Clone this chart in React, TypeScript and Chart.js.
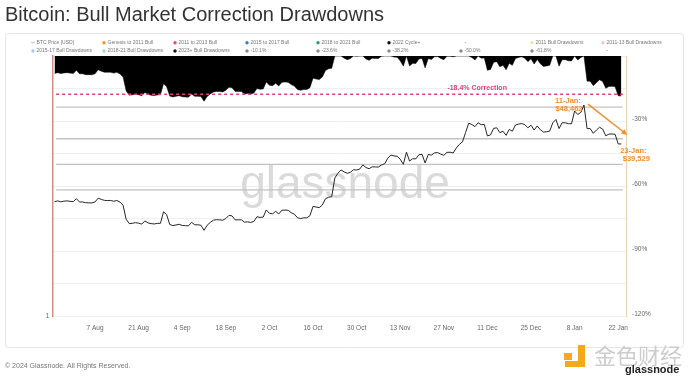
import React, { useEffect, useRef } from 'react';
import { Chart, registerables } from 'chart.js';

Chart.register(...registerables);

const FONT = '"Liberation Sans", Arial, sans-serif';

// ---------------- DATA ----------------
const chartTitle = 'Bitcoin: Bull Market Correction Drawdowns';
const footerText = '\u00A9 2024 Glassnode. All Rights Reserved.';

// day index 0 = 25 Jul 2023, daily values to 23 Jan 2024
const btcPrice = [
  // Jul 25-31
  29230, 29350, 29210, 29310, 29350, 29280, 29230,
  // Aug
  29700, 29180, 29180, 29070, 29050, 29040, 29180, 29770, 29580, 29430,
  29400, 29420, 29290, 29410, 29170, 28700, 26660, 26050, 26100, 26190,
  26120, 25990, 26430, 26160, 26060, 26010, 26090, 26100, 27720, 27300, 25930,
  // Sep
  25800, 25870, 25970, 25810, 25780, 25750, 26240, 25900, 25900, 25840,
  25160, 25840, 26220, 26530, 26600, 26570, 26530, 26760, 27210, 27130,
  26570, 26580, 26580, 26250, 26300, 26220, 26360, 27020, 26910, 26970,
  // Oct
  27990, 27500, 27430, 27790, 27410, 27950, 27970, 27940, 27590, 27390,
  26870, 26760, 26860, 26860, 27160, 28520, 28420, 28330, 28720, 29680,
  29920, 30000, 33090, 33920, 34500, 34160, 33910, 34090, 34540, 34500, 34670,
  // Nov
  35440, 34940, 34730, 35080, 35050, 35040, 35420, 35630, 36700, 37310,
  37130, 37070, 36500, 35540, 37880, 36150, 36600, 36570, 37360, 37450,
  35790, 37420, 37290, 37720, 37800, 37480, 37250, 37830, 37860, 37710,
  // Dec
  38690, 39460, 39980, 41980, 44080, 43770, 43290, 44170, 43720, 43790,
  41240, 41450, 42890, 43020, 41940, 42260, 41360, 42660, 42260, 43650,
  43870, 43990, 43740, 43020, 43610, 42520, 43440, 42580, 42070, 42140, 42280,
  // Jan
  44180, 44940, 42850, 44180, 44160, 43970, 43930, 46970, 46120, 46630,
  48462, 42850, 42840, 41800, 42510, 43150, 42740, 41260, 41620, 41660,
  41580, 39540, 39529,
];

// 2023+ Bull Drawdowns (%)
const bullDrawdowns2023 = [
  -8.1, -7.7, -8.1, -7.8, -7.7, -7.9, -8.1,
  -6.6, -8.2, -8.2, -8.6, -8.6, -8.7, -8.2, -6.4, -7.0, -7.5,
  -7.5, -7.5, -7.9, -7.5, -8.3, -9.7, -16.2, -18.1, -17.9, -17.6,
  -17.9, -18.3, -16.9, -17.7, -18.1, -18.2, -18.0, -17.9, -12.8, -14.2, -18.5,
  -18.9, -18.6, -18.3, -18.8, -18.9, -19.0, -17.5, -18.6, -18.6, -18.7,
  -20.9, -18.7, -17.5, -16.6, -16.4, -16.4, -16.6, -15.8, -14.4, -14.7,
  -16.4, -16.4, -16.4, -17.5, -17.3, -17.5, -17.1, -15.0, -15.4, -15.2,
  -12.0, -13.5, -13.7, -12.6, -13.8, -12.1, -12.0, -12.1, -13.2, -13.9,
  -15.5, -15.8, -15.5, -15.5, -14.6, -10.3, -10.6, -10.9, -9.7, -6.7,
  -5.9, -5.7, 0, 0, 0, -1.0, -1.7, -1.2, 0, -0.1, 0,
  0, -1.4, -2.0, -1.0, -1.1, -1.1, -0.1, 0, 0, 0,
  -0.5, -0.6, -2.2, -4.7, 0, -4.6, -3.4, -3.5, -1.4, -1.1,
  -5.5, -1.2, -1.6, -0.4, -0.2, -1.1, -1.7, -0.1, -0.1, -0.4,
  0, 0, 0, 0, 0, -0.7, -1.8, 0, -1.0, -0.9,
  -6.6, -6.2, -2.9, -2.6, -5.0, -4.3, -6.4, -3.4, -4.3, -1.2,
  -0.7, -0.4, -1.0, -2.6, -1.3, -3.7, -1.6, -3.6, -4.8, -4.6, -4.3,
  0, 0, -4.7, -1.7, -1.7, -2.2, -2.3, 0, -1.8, -0.7,
  0, -11.6, -11.6, -13.7, -12.3, -11.0, -11.8, -14.9, -14.1, -14.0,
  -14.2, -18.4, -18.4,
];

const xTickDays = [13, 27, 41, 55, 69, 83, 97, 111, 125, 139, 153, 167, 181];
const xTickLabels = ['7 Aug', '21 Aug', '4 Sep', '18 Sep', '2 Oct', '16 Oct', '30 Oct', '13 Nov', '27 Nov', '11 Dec', '25 Dec', '8 Jan', '22 Jan'];

const fibLevels = [-23.6, -38.2, -50.0, -61.8];
const correctionPct = -18.4;
const correctionLinePlotted = -17.6;
const levelLineStart = 0.5;
const levelLineEnd = 182.5;

const peakDateLabel = '11-Jan';
const lastDateLabel = '23-Jan';

const legendRow1 = ['BTC Price [USD]', 'Genesis to 2011 Bull', '2011 to 2013 Bull', '2015 to 2017 Bull', '2018 to 2021 Bull', '2022 Cycle+', '-', '2011 Bull Drawdowns', '2011-13 Bull Drawdowns'];
const legendRow1Colors = ['line', '#f7931a', '#e64a6d', '#2d7fe0', '#25a55f', '#111111', 'none', '#f6e2a6', '#f5c3cd'];
const legendRow2 = ['2015-17 Bull Drawdowns', '2018-21 Bull Drawdowns', '2023+ Bull Drawdowns', '-10.1%', '-23.6%', '-38.2%', '-50.0%', '-61.8%', '-'];
const legendRow2Colors = ['#a7c9ef', '#a6dcc0', '#111111', '#8a8a8a', '#8a8a8a', '#8a8a8a', '#8a8a8a', '#8a8a8a', 'none'];

// ---------------- LAYOUT ----------------
const LEGEND_COLS = [33, 104, 175, 247, 318, 389, 461, 532, 603];
const PRICE_MIN = 16070;
const PRICE_MAX = 62640;

const fmtUsd = (v: number) => '$' + v.toLocaleString('en-US');

const overlayPlugin = {
  id: 'overlay',
  beforeDraw(chart: any) {
    const ctx: CanvasRenderingContext2D = chart.ctx;
    ctx.save();
    ctx.fillStyle = '#ffffff';
    ctx.fillRect(0, 0, chart.width, chart.height);
    // panel
    ctx.strokeStyle = '#e6e6e6';
    ctx.lineWidth = 1;
    ctx.beginPath();
    (ctx as any).roundRect(5.5, 33.5, 678, 314, 3);
    ctx.stroke();
    // title
    ctx.fillStyle = '#333333';
    ctx.font = `20px ${FONT}`;
    ctx.textBaseline = 'alphabetic';
    ctx.textAlign = 'left';
    ctx.fillText(chartTitle, 5, 20.5);
    // legend
    ctx.font = `5px ${FONT}`;
    ctx.textBaseline = 'middle';
    const rows: [string[], string[], number][] = [
      [legendRow1, legendRow1Colors, 42.7],
      [legendRow2, legendRow2Colors, 51],
    ];
    rows.forEach(([labels, colors, y]) => {
      labels.forEach((lab, i) => {
        const cx = LEGEND_COLS[i];
        const col = colors[i];
        if (col === 'line') {
          ctx.strokeStyle = '#c9b9a0';
          ctx.lineWidth = 1;
          ctx.beginPath();
          ctx.moveTo(cx - 1.8, y);
          ctx.lineTo(cx + 1.8, y);
          ctx.stroke();
        } else if (col !== 'none') {
          ctx.fillStyle = col;
          ctx.beginPath();
          ctx.arc(cx, y, 1.7, 0, Math.PI * 2);
          ctx.fill();
        }
        ctx.fillStyle = '#777777';
        ctx.fillText(lab, cx + 3.5, y);
      });
    });
    // footer
    ctx.font = `7px ${FONT}`;
    ctx.fillStyle = '#777777';
    ctx.textBaseline = 'alphabetic';
    ctx.fillText(footerText, 5, 368);
    ctx.restore();
  },
  beforeDatasetsDraw(chart: any) {
    const ctx: CanvasRenderingContext2D = chart.ctx;
    ctx.save();
    ctx.font = `46px ${FONT}`;
    ctx.fillStyle = '#dadada';
    ctx.textAlign = 'center';
    ctx.textBaseline = 'alphabetic';
    ctx.fillText('glassnode', 345, 198);
    ctx.restore();
  },
  afterDraw(chart: any) {
    const ctx: CanvasRenderingContext2D = chart.ctx;
    const xs = chart.scales.x;
    const yp = chart.scales.yPrice;
    const yc = chart.scales.yPct;
    ctx.save();
    // correction label
    ctx.font = `bold 7px ${FONT}`;
    ctx.fillStyle = '#e0407a';
    ctx.textAlign = 'center';
    ctx.textBaseline = 'middle';
    ctx.fillText(`${correctionPct}% Correction`, xs.getPixelForValue(135.7), yc.getPixelForValue(correctionLinePlotted) - 6);

    // peak & last annotations
    let peakIdx = 0;
    btcPrice.forEach((v, i) => { if (v > btcPrice[peakIdx]) peakIdx = i; });
    const lastIdx = btcPrice.length - 1;
    const px = xs.getPixelForValue(peakIdx);
    const py = yp.getPixelForValue(btcPrice[peakIdx]);
    const lx = xs.getPixelForValue(lastIdx);
    const ly = yp.getPixelForValue(btcPrice[lastIdx]);
    const orange = '#ef8f2c';
    ctx.fillStyle = orange;
    ctx.font = `bold 7.5px ${FONT}`;
    ctx.fillText(`${peakDateLabel}:`, px - 16, py - 4);
    ctx.fillText(fmtUsd(btcPrice[peakIdx]), px - 15, py + 4);
    ctx.fillText(`${lastDateLabel}:`, lx + 12, ly + 7);
    ctx.fillText(fmtUsd(btcPrice[lastIdx]), lx + 15, ly + 15);

    // arrow
    const ax0 = px + 4, ay0 = py - 1;
    const ax1 = lx + 6, ay1 = ly - 9;
    const ang = Math.atan2(ay1 - ay0, ax1 - ax0);
    const head = 6.5;
    ctx.strokeStyle = orange;
    ctx.lineWidth = 1.5;
    ctx.beginPath();
    ctx.moveTo(ax0, ay0);
    ctx.lineTo(ax1 - Math.cos(ang) * head * 0.8, ay1 - Math.sin(ang) * head * 0.8);
    ctx.stroke();
    ctx.beginPath();
    ctx.moveTo(ax1, ay1);
    ctx.lineTo(ax1 - head * Math.cos(ang - 0.45), ay1 - head * Math.sin(ang - 0.45));
    ctx.lineTo(ax1 - head * Math.cos(ang + 0.45), ay1 - head * Math.sin(ang + 0.45));
    ctx.closePath();
    ctx.fill();

    // bottom-right logos
    ctx.fillStyle = '#f3a91b';
    ctx.fillRect(564, 353, 8, 7);
    ctx.fillRect(578, 345, 7, 22);
    ctx.fillRect(565, 361, 20, 6);
    ctx.textAlign = 'left';
    ctx.textBaseline = 'alphabetic';
    ctx.font = `22px "Noto Sans CJK SC", sans-serif`;
    ctx.fillStyle = '#cdcdcd';
    ctx.fillText('金色财经', 594, 364);
    ctx.font = `bold 11px ${FONT}`;
    ctx.fillStyle = '#222222';
    ctx.fillText('glassnode', 625, 373);
    ctx.restore();
  },
};

export default function App() {
  const canvasRef = useRef<HTMLCanvasElement | null>(null);

  useEffect(() => {
    if (!canvasRef.current) return;
    const priceData = btcPrice.map((v, i) => ({ x: i, y: v }));
    const ddData = bullDrawdowns2023.map((v, i) => ({ x: i, y: v }));
    const levelLine = (lvl: number) => [
      { x: levelLineStart, y: lvl },
      { x: levelLineEnd, y: lvl },
    ];

    const datasets: any[] = [
      {
        label: 'BTC Price [USD]',
        data: priceData,
        yAxisID: 'yPrice',
        borderColor: '#262626',
        borderWidth: 1,
        pointRadius: 0,
        tension: 0,
        order: 0,
      },
      {
        label: 'Correction',
        data: levelLine(correctionLinePlotted),
        yAxisID: 'yPct',
        borderColor: '#e5407e',
        borderWidth: 1.5,
        borderDash: [3, 3],
        pointRadius: 0,
        order: 1,
      },
      ...fibLevels.map((lvl) => ({
        label: `${lvl}%`,
        data: levelLine(lvl),
        yAxisID: 'yPct',
        borderColor: '#c2c2c2',
        borderWidth: 1.3,
        pointRadius: 0,
        order: 2,
      })),
      {
        label: '2023+ Bull Drawdowns',
        data: ddData,
        yAxisID: 'yPct',
        borderColor: '#000000',
        borderWidth: 0.5,
        backgroundColor: '#000000',
        fill: 'origin',
        pointRadius: 0,
        tension: 0,
        order: 3,
      },
    ];

    const tickFont = { size: 6.5, family: FONT };

    const chart = new Chart(canvasRef.current, {
      type: 'line',
      data: { datasets },
      options: {
        responsive: false,
        maintainAspectRatio: false,
        animation: false,
        devicePixelRatio: 1,
        parsing: false as any,
        normalized: true,
        layout: { padding: { left: 33, right: 44, top: 56, bottom: 46 } },
        plugins: {
          legend: { display: false },
          tooltip: { enabled: false },
        },
        scales: {
          x: {
            type: 'linear',
            min: -0.5,
            max: 183.5,
            afterBuildTicks: (s: any) => {
              s.ticks = xTickDays.map((v) => ({ value: v }));
            },
            afterFit: (s: any) => {
              s.height = 20;
            },
            ticks: {
              autoSkip: false,
              maxRotation: 0,
              padding: 8,
              color: '#666666',
              font: tickFont,
              callback: (_v: any, i: number) => xTickLabels[i],
            },
            grid: { display: false, drawTicks: false },
            border: { display: false },
          },
          yPrice: {
            type: 'logarithmic',
            position: 'left',
            min: PRICE_MIN,
            max: PRICE_MAX,
            afterBuildTicks: (s: any) => {
              s.ticks = [{ value: PRICE_MIN }];
            },
            afterFit: (s: any) => {
              s.width = 20;
            },
            ticks: {
              padding: 4,
              color: '#666666',
              font: tickFont,
              callback: () => '1',
            },
            grid: { display: false, drawTicks: false },
            border: { display: true, color: '#d98a84', width: 1.5 },
          },
          yPct: {
            type: 'linear',
            position: 'right',
            min: -120,
            max: 0,
            afterFit: (s: any) => {
              s.width = 30;
            },
            ticks: {
              stepSize: 15,
              padding: 6,
              labelOffset: -2,
              color: '#666666',
              font: tickFont,
              callback: (v: any) => (Number(v) % 30 === 0 && Number(v) !== 0 ? `${v}%` : ''),
            },
            grid: { color: '#efefef', drawTicks: false, lineWidth: 1 },
            border: { display: true, color: '#f2d3ae', width: 1 },
          },
        },
      } as any,
      plugins: [overlayPlugin as any],
    });

    return () => {
      chart.destroy();
    };
  }, []);

  return (
    <div style={{ position: 'fixed', left: 0, top: 0, width: 700, height: 382, background: '#ffffff' }}>
      <canvas ref={canvasRef} width={700} height={382} style={{ display: 'block', width: 700, height: 382 }} />
    </div>
  );
}
